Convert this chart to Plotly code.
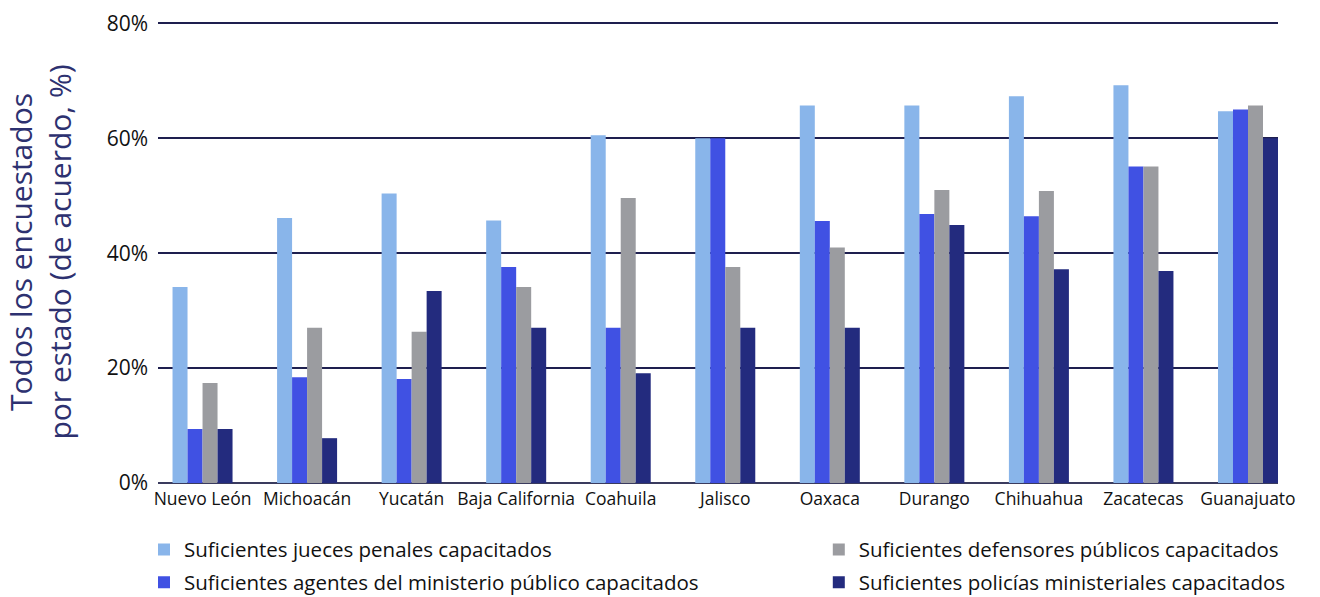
import plotly.graph_objects as go

states = ["Nuevo León", "Michoacán", "Yucatán", "Baja California", "Coahuila", "Jalisco",
          "Oaxaca", "Durango", "Chihuahua", "Zacatecas", "Guanajuato"]
jueces = [34.1, 46.1, 50.4, 45.7, 60.5, 60.0, 65.7, 65.7, 67.3, 69.2, 64.7]
agentes = [9.4, 18.4, 18.1, 37.6, 27.0, 60.0, 45.6, 46.8, 46.4, 55.1, 65.0]
defensores = [17.4, 27.0, 26.3, 34.1, 49.6, 37.6, 41.0, 51.0, 50.8, 55.1, 65.7]
policias = [9.4, 7.8, 33.4, 27.0, 19.1, 27.0, 27.0, 44.9, 37.2, 36.9, 60.0]
y_ticks = [0, 20, 40, 60, 80]
y_ticklabels = ["0%", "20%", "40%", "60%", "80%"]

names = ["Suficientes jueces penales capacitados",
         "Suficientes agentes del ministerio público capacitados",
         "Suficientes defensores públicos capacitados",
         "Suficientes policías ministeriales capacitados"]
colors = ["#89b5ea", "#4051e3", "#9b9ca0", "#232b7e"]
legends = ["legend", "legend", "legend2", "legend2"]

FONT = "Open Sans"

fig = go.Figure()
for i, (vals, name, col, lg) in enumerate(zip([jueces, agentes, defensores, policias], names, colors, legends)):
    fig.add_trace(go.Bar(x=states, y=vals, name=name, marker_color=col,
                         marker_line_width=0, legend=lg, legendgroup=f"g{i}"))

leg_common = dict(yref="paper", xref="paper", xanchor="left", yanchor="top",
                  orientation="v", font=dict(size=20.5, color="#111111", family=FONT),
                  tracegroupgap=3, bgcolor="rgba(0,0,0,0)")

fig.update_layout(
    width=1320, height=597,
    margin=dict(l=158, r=42, t=21, b=114, autoexpand=False),
    paper_bgcolor="white", plot_bgcolor="white",
    barmode="group", bargap=0.426, bargroupgap=0,
    font=dict(family=FONT, color="#111111"),
    xaxis=dict(range=[-0.426, 10.287], tickfont=dict(size=17.5, color="#111111"),
               showgrid=False, showline=False, ticks="", ticklabelstandoff=3),
    yaxis=dict(range=[0, 80.4], tickvals=y_ticks, ticktext=y_ticklabels,
               tickfont=dict(size=21, color="#111111"),
               showgrid=True, gridcolor="#1e1f4f", gridwidth=1.5,
               zeroline=True, zerolinecolor="#3a3b5e", zerolinewidth=2,
               ticklabelstandoff=9,
               title=dict(text="Todos los encuestados<br>por estado (de acuerdo, %)",
                          font=dict(size=30, color="#2d3170"), standoff=26)),
    legend=dict(x=-0.0125, y=-0.101, **leg_common),
    legend2=dict(x=0.590, y=-0.101, **leg_common),
)

fig.write_html("out.html", config={"displayModeBar": False},
               post_script="document.body.style.margin='0';document.body.style.overflow='hidden';")
